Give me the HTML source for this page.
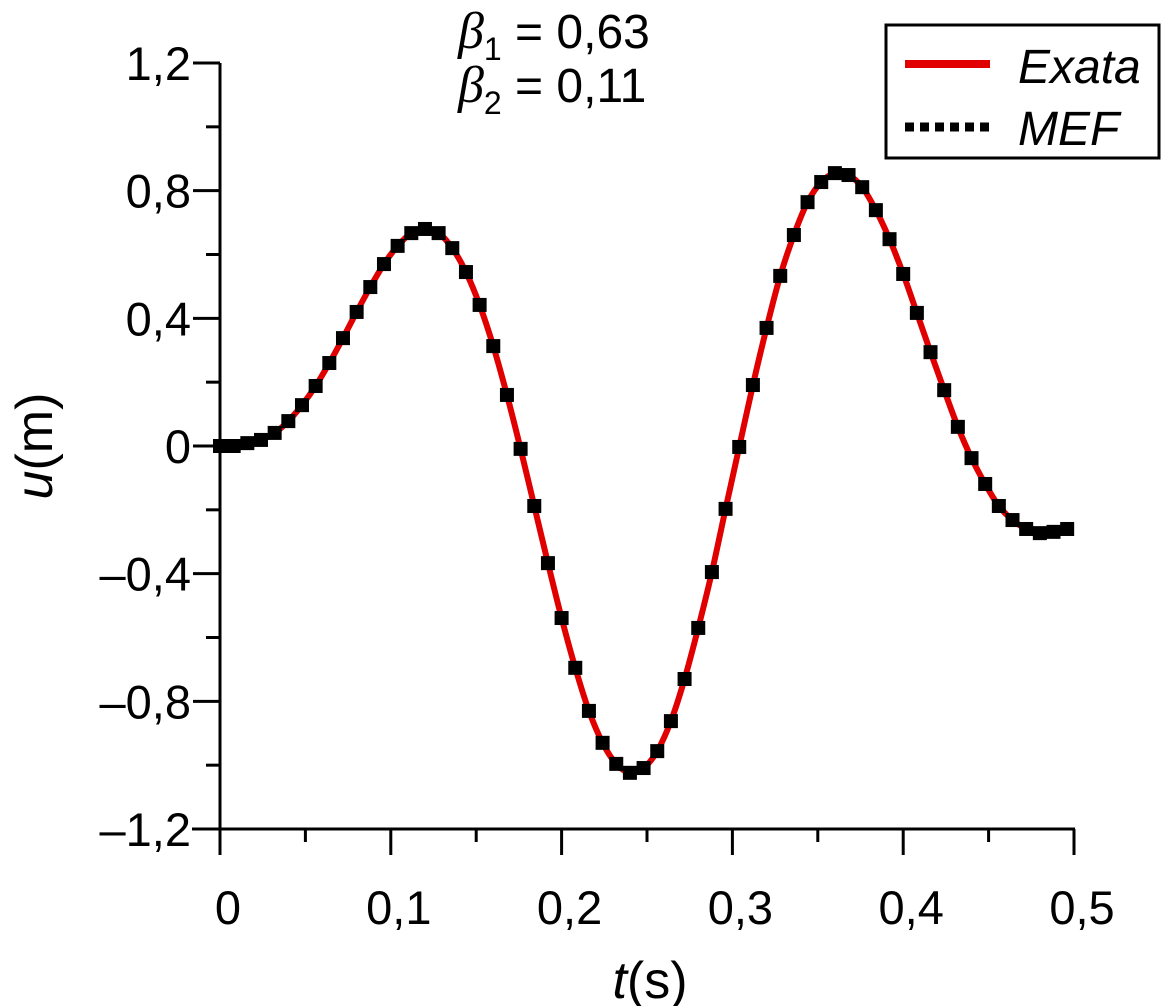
<!DOCTYPE html>
<html><head><meta charset="utf-8"><style>
html,body{margin:0;padding:0;background:#fff;}
svg{display:block;font-family:"Liberation Sans",Arial,sans-serif;}
</style></head><body>
<svg id="chart" width="1163" height="1006" viewBox="0 0 1163 1006">
<g id="axes"></g>
<g id="series"></g>
<g font-size="48">
<text x="458" y="48"><tspan font-family="Liberation Serif" font-style="italic" font-size="52">β</tspan><tspan font-size="32" dy="12">1</tspan><tspan dy="-12"> = 0,63</tspan></text>
<text x="458" y="102"><tspan font-family="Liberation Serif" font-style="italic" font-size="52">β</tspan><tspan font-size="32" dy="12">2</tspan><tspan dy="-12"> = 0,11</tspan></text>
</g>
<g>
<rect x="886" y="25" width="273" height="133" fill="#fff" stroke="#000" stroke-width="3"/>
<line x1="905" y1="64" x2="990" y2="64" stroke="#e00000" stroke-width="8"/>
<text x="1018" y="83" font-size="48" font-style="italic">Exata</text>
<line x1="905" y1="127" x2="990" y2="127" stroke="#000" stroke-width="9" stroke-dasharray="9 6"/>
<text x="1018" y="145" font-size="48" font-style="italic">MEF</text>
</g>
<text x="650" y="998" font-size="52" text-anchor="middle"><tspan font-style="italic">t</tspan>(s)</text>
<text transform="translate(52,446) rotate(-90)" font-size="52" text-anchor="middle"><tspan font-style="italic">u</tspan>(m)</text>
</svg>
<script>
const dt = 0.008;
const uValues = [0,0,0.009,0.019,0.041,0.078,0.128,0.188,0.26,0.338,0.42,0.498,0.57,0.627,0.667,0.68,0.667,0.62,0.545,0.442,0.313,0.16,-0.009,-0.188,-0.367,-0.539,-0.695,-0.83,-0.93,-0.996,-1.024,-1.009,-0.956,-0.862,-0.73,-0.57,-0.395,-0.197,-0.003,0.191,0.37,0.533,0.661,0.764,0.827,0.855,0.849,0.811,0.739,0.648,0.539,0.417,0.294,0.175,0.06,-0.038,-0.119,-0.188,-0.232,-0.26,-0.273,-0.269,-0.26];
const xTicks = [0,0.1,0.2,0.3,0.4,0.5];
const xTickLabels = ["0","0,1","0,2","0,3","0,4","0,5"];
const yTicks = [-1.2,-0.8,-0.4,0,0.4,0.8,1.2];
const yTickLabels = ["\u20131,2","\u20130,8","\u20130,4","0","0,4","0,8","1,2"];

const NS="http://www.w3.org/2000/svg";
const X0=220,X1=1074,Y0=829,Y1=63;
const xs=t=>X0+(t-0)/(0.5)*(X1-X0);
const ys=u=>Y0-(u+1.2)/2.4*(Y0-Y1);
function mk(tag,attrs,parent){const e=document.createElementNS(NS,tag);for(const k in attrs)e.setAttribute(k,attrs[k]);parent.appendChild(e);return e;}
const axes=document.getElementById('axes');
const series=document.getElementById('series');

let el=mk('line',{x1:X0,y1:Y1,x2:X0,y2:Y0,stroke:'#000','stroke-width':3},axes);


el=mk('line',{x1:192,y1:Y0,x2:X1+1,y2:Y0,stroke:'#000','stroke-width':3},axes);



for(let i=0;i<xTicks.length;i++){
  const x=xs(xTicks[i]);
  el=mk('line',{x1:x,y1:Y0,x2:x,y2:855,stroke:'#000','stroke-width':3},axes);
  
  
  el=mk('text',{x:x+8,y:924,'font-size':47,'text-anchor':'middle'},axes);
  el.textContent=xTickLabels[i];
  
  
  if(i<xTicks.length-1){
    const xm=xs((xTicks[i]+xTicks[i+1])/2);
    el=mk('line',{x1:xm,y1:Y0,x2:xm,y2:842,stroke:'#000','stroke-width':3},axes);
    
    
  }
}
for(let i=0;i<yTicks.length;i++){
  const y=ys(yTicks[i]);
  el=mk('line',{x1:193,y1:y,x2:X0,y2:y,stroke:'#000','stroke-width':3},axes);
  
  
  el=mk('text',{x:191,y:y+17,'font-size':47,'text-anchor':'end'},axes);
  el.textContent=yTickLabels[i];
  
  
  if(i<yTicks.length-1){
    const ym=ys((yTicks[i]+yTicks[i+1])/2);
    el=mk('line',{x1:206,y1:ym,x2:X0,y2:ym,stroke:'#000','stroke-width':3},axes);
    
    
  }
}

const pts=uValues.map((u,i)=>[xs(i*dt),ys(u)]);
let d='M'+pts[0][0]+','+pts[0][1];
for(let i=0;i<pts.length-1;i++){
  const p0=pts[Math.max(0,i-1)],p1=pts[i],p2=pts[i+1],p3=pts[Math.min(pts.length-1,i+2)];
  const c1=[p1[0]+(p2[0]-p0[0])/6,p1[1]+(p2[1]-p0[1])/6];
  const c2=[p2[0]-(p3[0]-p1[0])/6,p2[1]-(p3[1]-p1[1])/6];
  d+=' C'+c1[0]+','+c1[1]+' '+c2[0]+','+c2[1]+' '+p2[0]+','+p2[1];
}
el=mk('path',{d:d,fill:'none',stroke:'#e00000','stroke-width':6},series);



for(let i=0;i<uValues.length;i++){
  el=mk('rect',{x:xs(i*dt)-7,y:ys(uValues[i])-7,width:14,height:14,fill:'#000'},series);
  
  
}
</script>
</body></html>
